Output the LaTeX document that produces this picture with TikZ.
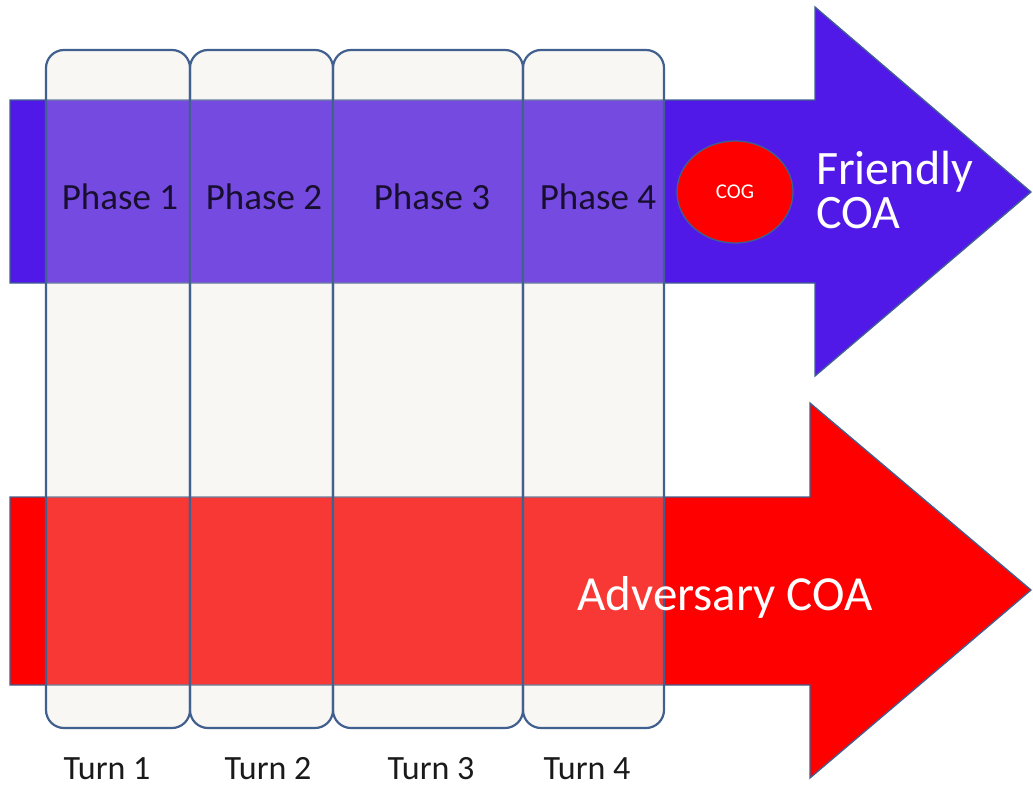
\documentclass[tikz,border=0pt]{standalone}
\usepackage{fontspec}
\setmainfont{Carlito}
\usetikzlibrary{shapes.geometric}
\definecolor{fblue}{HTML}{5019E8}
\definecolor{fred}{HTML}{FF0000}
\definecolor{edge}{HTML}{41608F}
\definecolor{cream}{HTML}{E6E0D0}
\definecolor{phasetxt}{HTML}{180F30}
\definecolor{turntxt}{HTML}{1A1A1A}
\tikzset{
  arrowshape/.style={draw=edge, line width=1.3pt, line join=miter},
  colbox/.style={rectangle, rounded corners=18pt, draw=edge, line width=2.2pt,
    fill=cream, fill opacity=0.25, text opacity=1, inner sep=0pt,
    minimum height=678pt},
  phaselbl/.style={text=phasetxt, font=\fontsize{37}{42}\selectfont, inner sep=0pt},
  turnlbl/.style={text=turntxt, font=\fontsize{34}{40}\selectfont, inner sep=0pt},
  coalbl/.style={text=white, inner sep=0pt},
  cogshape/.style={ellipse, draw=edge, line width=1.3pt, fill=fred, inner sep=0pt,
    minimum width=116pt, minimum height=102pt, text=white, font=\fontsize{21}{24}\selectfont}
}
\begin{document}
\begin{tikzpicture}[x=1pt,y=-1pt]
\useasboundingbox (0,0) rectangle (1033,787);
\fill[white] (0,0) rectangle (1033,787);
% arrows
\draw[arrowshape, fill=fblue] (10,100) -- (815,100) -- (815,7) -- (1031,192) -- (815,376) -- (815,283) -- (10,283) -- cycle;
\draw[arrowshape, fill=fred] (10,497) -- (810,497) -- (810,403) -- (1031,590) -- (810,778) -- (810,685) -- (10,685) -- cycle;
% columns (turns)
\node[colbox, minimum width=144pt] (c1) at (118,389) {};
\node[colbox, minimum width=143pt] (c2) at (261.5,389) {};
\node[colbox, minimum width=190pt] (c3) at (428,389) {};
\node[colbox, minimum width=141pt] (c4) at (593.5,389) {};
% phase labels
\node[phaselbl] (p1) at (120,197) {Phase 1};
\node[phaselbl] (p2) at (264,197) {Phase 2};
\node[phaselbl] (p3) at (432,197) {Phase 3};
\node[phaselbl] (p4) at (598,197) {Phase 4};
% turn labels
\node[turnlbl] (t1) at (107,769) {Turn 1};
\node[turnlbl] (t2) at (268,769) {Turn 2};
\node[turnlbl] (t3) at (431,769) {Turn 3};
\node[turnlbl] (t4) at (587,769) {Turn 4};
% COG
\node[cogshape] (cog) at (735,192) {COG};
% COA labels
\node[coalbl, anchor=west, align=left, font=\fontsize{48}{44}\selectfont] (fcoa) at (816,190) {Friendly\\COA};
\node[coalbl, font=\fontsize{49}{52}\selectfont] (acoa) at (725,597) {Adversary COA};
\end{tikzpicture}
\end{document}
